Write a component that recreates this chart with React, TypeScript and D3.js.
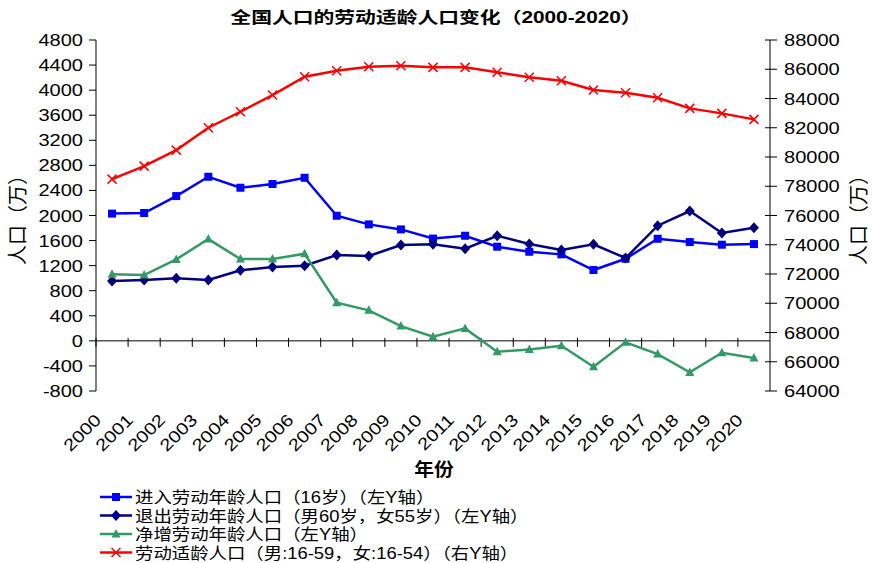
import * as d3 from "d3";

const years = d3.range(2000, 2021).map(String);
const enterPop = [2030, 2040, 2310, 2618, 2443, 2502, 2602, 1996, 1858, 1778, 1632, 1677, 1502, 1422, 1380, 1130, 1310, 1629, 1576, 1534, 1544];
const exitPop = [954, 970, 997, 970, 1125, 1177, 1198, 1369, 1353, 1528, 1542, 1470, 1677, 1544, 1449, 1540, 1321, 1837, 2071, 1720, 1805];
const netPop = [1061, 1050, 1300, 1624, 1305, 1305, 1390, 608, 487, 236, 65, 199, -174, -136, -78, -413, -24, -211, -503, -190, -274];
const workingAge = [78488, 79378, 80472, 82000, 83094, 84236, 85489, 85899, 86174, 86243, 86130, 86130, 85790, 85448, 85215, 84578, 84396, 84052, 83325, 82984, 82574];
const leftTicks = d3.range(-800, 4801, 400);
const rightTicks = d3.range(64000, 88001, 2000);
const legendLabels = [
  "进入劳动年龄人口（16岁）（左Y轴）",
  "退出劳动年龄人口（男60岁，女55岁）（左Y轴）",
  "净增劳动年龄人口（左Y轴）",
  "劳动适龄人口（男:16-59，女:16-54）（右Y轴）",
];

const FONT = "'Liberation Sans', Arial, 'Noto Sans CJK SC', sans-serif";
const SX = 1.18; // the picture is a bit wider than tall

const plot = { left: 96, right: 770, top: 40, bottom: 391 };

export default function App() {
  const x = d3.scaleBand().domain(years).range([plot.left, plot.right]);
  const cx = (y: string) => (x(y) as number) + x.bandwidth() / 2;
  const yL = d3.scaleLinear().domain([-800, 4800]).range([plot.bottom, plot.top]);
  const yR = d3.scaleLinear().domain([64000, 88000]).range([plot.bottom, plot.top]);

  const series = [
    { values: enterPop, color: "#0000ff", marker: "square", scale: yL },
    { values: exitPop, color: "#000080", marker: "diamond", scale: yL },
    { values: netPop, color: "#339966", marker: "triangle", scale: yL },
    { values: workingAge, color: "#ff0000", marker: "cross", scale: yR },
  ];

  const marker = (kind: string, color: string, px: number, py: number, key: any) => {
    if (kind === "square") return <rect key={key} x={px - 4} y={py - 4} width={8} height={8} fill={color} />;
    if (kind === "diamond") return <path key={key} d={`M${px},${py - 5.5}L${px + 5},${py}L${px},${py + 5.5}L${px - 5},${py}Z`} fill={color} />;
    if (kind === "triangle") return <path key={key} d={`M${px},${py - 5}L${px + 4.5},${py + 3.5}L${px - 4.5},${py + 3.5}Z`} fill={color} />;
    return <path key={key} d={`M${px - 4.5},${py - 4.5}L${px + 4.5},${py + 4.5}M${px + 4.5},${py - 4.5}L${px - 4.5},${py + 4.5}`} stroke={color} strokeWidth={1.5} />;
  };

  const stext = (t: string, tx: number, ty: number, props: any = {}, sx = SX) => (
    <text transform={`translate(${tx},${ty}) scale(${sx},1)`} {...props}>{t}</text>
  );

  return (
    <svg width={872} height={563} style={{ position: "absolute", left: 0, top: 0, background: "#fff" }} fontFamily={FONT}>
      {stext("全国人口的劳动适龄人口变化（2000-2020）", 436, 23, { textAnchor: "middle", fontSize: 16, fontWeight: "bold" }, 1.3)}

      {/* left axis */}
      <line x1={plot.left} x2={plot.left} y1={plot.top} y2={plot.bottom} stroke="#000" />
      {leftTicks.map((t) => (
        <g key={t}>
          <line x1={plot.left - 7} x2={plot.left} y1={yL(t)} y2={yL(t)} stroke="#000" />
          {stext(String(t), plot.left - 13, yL(t) + 6, { textAnchor: "end", fontSize: 17 })}
        </g>
      ))}
      {/* right axis */}
      <line x1={plot.right} x2={plot.right} y1={plot.top} y2={plot.bottom} stroke="#000" />
      {rightTicks.map((t) => (
        <g key={t}>
          <line x1={plot.right - 5} x2={plot.right + 7} y1={yR(t)} y2={yR(t)} stroke="#000" />
          {stext(String(t), plot.right + 14, yR(t) + 6, { textAnchor: "start", fontSize: 17 })}
        </g>
      ))}
      {/* x axis at zero */}
      <line x1={plot.left} x2={plot.right} y1={yL(0)} y2={yL(0)} stroke="#000" />
      {years.map((y) => (
        <line key={y} x1={x(y)} x2={x(y)} y1={yL(0) - 3} y2={yL(0) + 6} stroke="#000" />
      ))}
      {years.map((y) => (
        <text key={y} transform={`translate(${cx(y) - 10},${421}) rotate(-45) scale(${SX},1)`} textAnchor="end" fontSize={17}>{y}</text>
      ))}
      {stext("年份", 434, 476, { textAnchor: "middle", fontSize: 18, fontWeight: "bold" }, 1.1)}
      <text transform="translate(25,215) rotate(-90)" textAnchor="middle" fontSize={20}>人口（万）</text>
      <text transform="translate(866,215) rotate(-90)" textAnchor="middle" fontSize={20}>人口（万）</text>

      {series.map((s, i) => {
        const line = d3.line<number>().x((_, j) => cx(years[j])).y((v) => s.scale(v));
        return (
          <g key={i}>
            <path d={line(s.values) as string} fill="none" stroke={s.color} strokeWidth={2.5} />
            {s.values.map((v, j) => marker(s.marker, s.color, cx(years[j]), s.scale(v), j))}
          </g>
        );
      })}

      {/* legend */}
      {series.map((s, i) => {
        const ly = 497 + i * 18.5;
        return (
          <g key={i}>
            <line x1={100} x2={132} y1={ly} y2={ly} stroke={s.color} strokeWidth={2.5} />
            {marker(s.marker, s.color, 116, ly, "m")}
            {stext(legendLabels[i], 135, ly + 6, { fontSize: 16 }, 1.15)}
          </g>
        );
      })}
    </svg>
  );
}
